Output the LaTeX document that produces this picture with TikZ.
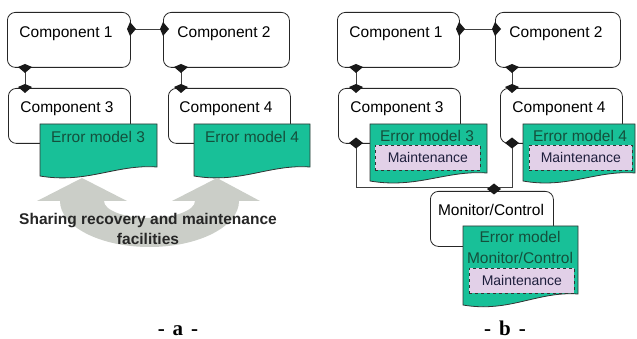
\documentclass[tikz,border=0pt]{standalone}
\usepackage{fontspec}
\setmainfont{Liberation Sans}
\newfontfamily\serifb{Liberation Serif}
\usetikzlibrary{calc}
\definecolor{emgreen}{RGB}{24,192,152}
\definecolor{emtext}{RGB}{20,80,60}
\definecolor{mlav}{RGB}{226,208,232}
\definecolor{mtext}{RGB}{30,30,60}
\definecolor{arrowgray}{RGB}{203,206,200}
\newcommand\kiteD[1]{\fill[port] ($(#1)+(0,-3)$) -- ($(#1)+(7,0)$) -- ($(#1)+(0,6)$) -- ($(#1)+(-7,0)$) -- cycle;}
\newcommand\kiteR[1]{\fill[port] ($(#1)+(-3,0)$) -- ($(#1)+(0,-7)$) -- ($(#1)+(6,0)$) -- ($(#1)+(0,7)$) -- cycle;}
\newcommand\diam[1]{\fill[port] ($(#1)+(-7,0)$) -- ($(#1)+(0,-5.5)$) -- ($(#1)+(7,0)$) -- ($(#1)+(0,5.5)$) -- cycle;}
% L R T BL BR
\newcommand\docpath[5]{(#1,#3) -- (#2,#3) -- (#2,#5) .. controls ({#2-0.35*(#2-#1)},{#5-3}) and ({#1+0.4*(#2-#1)},{#4+8}) .. (#1,#4) -- cycle}
\begin{document}
\begin{tikzpicture}[x=1pt,y=-1pt,
  comp/.style={draw=black!85, line width=0.8pt, rounded corners=8pt, fill=white, anchor=north west, inner sep=0},
  ctext/.style={font=\fontsize{15.5}{17}\selectfont, inner sep=0, anchor=base},
  doc/.style={draw=black!80, line width=0.8pt, fill=emgreen},
  emtxt/.style={font=\fontsize{15.5}{17}\selectfont, text=emtext, inner sep=0, anchor=base},
  maint/.style={draw=black!80, dashed, line width=0.7pt, fill=mlav, font=\fontsize{14}{16}\selectfont, text=mtext, inner sep=0, anchor=north west},
  port/.style={fill=black!90},
  wire/.style={draw=black!75, line width=0.8pt},
  panelcap/.style={font=\serifb\bfseries\fontsize{21}{24}\selectfont, inner sep=0, anchor=base}
]
\useasboundingbox (0,0) rectangle (637,339);

% ---------------- panel a ----------------
\coordinate (pa12) at (130,29);
\coordinate (pa21) at (163,29);
\coordinate (pa13) at (25,67);
\coordinate (pa31) at (25,87);
\coordinate (pa24) at (181,67);
\coordinate (pa42) at (181,87);
\draw[wire] (pa12) -- (pa21);
\draw[wire] (pa13) -- (pa31);
\draw[wire] (pa24) -- (pa42);

\node[comp, minimum width=123pt, minimum height=55pt] (a1) at (7,12) {};
\node[comp, minimum width=126pt, minimum height=55pt] (a2) at (163,12) {};
\node[comp, minimum width=122pt, minimum height=55pt] (a3) at (8,88) {};
\node[comp, minimum width=122pt, minimum height=55pt] (a4) at (168,88) {};
\node[ctext] (a1t) at (66,38) {Component 1};
\node[ctext] (a2t) at (224,38) {Component 2};
\node[ctext] (a3t) at (67,113) {Component 3};
\node[ctext] (a4t) at (226,113) {Component 4};

\path[doc] \docpath{40}{157}{124}{176}{167};
\path[doc] \docpath{194}{310}{124}{176}{167};
\node[emtxt] (ea3) at (98,143) {Error model 3};
\node[emtxt] (ea4) at (252,143) {Error model 4};

\kiteR{pa12}
\kiteR{pa21}
\kiteD{pa13}
\kiteD{pa31}
\kiteD{pa24}
\kiteD{pa42}

% grey sharing arrow
\fill[arrowgray] (37,201) -- (82,178) -- (127,201) -- (104,201)
  arc[start angle=180, end angle=360, x radius=45.5pt, y radius=17pt]
  -- (172,201) -- (217,178) -- (260,201) -- (239,201)
  arc[start angle=0, end angle=-180, x radius=89.5pt, y radius=46pt] -- cycle;
\node[font=\bfseries\fontsize{15.5}{19}\selectfont, text=black!85, inner sep=0, anchor=base] (sh1) at (148,225) {Sharing recovery and maintenance};
\node[font=\bfseries\fontsize{15.5}{19}\selectfont, text=black!85, inner sep=0, anchor=base] (sh2) at (148,244) {facilities};

\node[panelcap] (capa) at (178,335) {-\hspace{8pt}a\hspace{8pt}-};

% ---------------- panel b ----------------
\coordinate (pb12) at (459,29);
\coordinate (pb21) at (495,29);
\coordinate (pb13) at (356,67);
\coordinate (pb31) at (356,87);
\coordinate (pb24) at (512,67);
\coordinate (pb42) at (512,87);
\coordinate (d3) at (356,143);
\coordinate (d4) at (512,143);
\coordinate (dm) at (494,189);
\coordinate (k3) at (356,187);
\coordinate (k4) at (512,187);
\draw[wire] (pb12) -- (pb21);
\draw[wire] (pb13) -- (pb31);
\draw[wire] (pb24) -- (pb42);
\draw[wire] (d3) -- (k3) -- (k4) -- (d4);

\node[comp, minimum width=122pt, minimum height=55pt] (b1) at (337,12) {};
\node[comp, minimum width=125pt, minimum height=55pt] (b2) at (495,12) {};
\node[comp, minimum width=122pt, minimum height=55pt] (b3) at (338,88) {};
\node[comp, minimum width=122pt, minimum height=55pt] (b4) at (500,88) {};
\node[comp, minimum width=123pt, minimum height=55pt] (mc) at (430,191) {};
\node[ctext] (b1t) at (396,38) {Component 1};
\node[ctext] (b2t) at (556,38) {Component 2};
\node[ctext] (b3t) at (397,113) {Component 3};
\node[ctext] (b4t) at (559,113) {Component 4};
\node[ctext] (mct) at (491,215) {Monitor/Control};

\path[doc] \docpath{370}{487}{124}{181}{173};
\path[doc] \docpath{523}{635}{124}{181}{173};
\path[doc] \docpath{463}{578}{226}{305}{294};
\node[emtxt] (eb3) at (427,142) {Error model 3};
\node[emtxt] (eb4) at (580,142) {Error model 4};
\node[emtxt] (em1) at (520,243) {Error model};
\node[emtxt] (em2) at (520,263) {Monitor/Control};

\node[maint, minimum width=105pt, minimum height=25pt] (m3) at (375,145) {Maintenance};
\node[maint, minimum width=103pt, minimum height=25pt] (m4) at (529,145) {Maintenance};
\node[maint, minimum width=105pt, minimum height=25pt] (mm) at (469,268) {Maintenance};

\kiteR{pb12}
\kiteR{pb21}
\kiteD{pb13}
\kiteD{pb31}
\kiteD{pb24}
\kiteD{pb42}
\diam{d3}
\diam{d4}
\diam{dm}

\node[panelcap] (capb) at (505,335) {-\hspace{8pt}b\hspace{8pt}-};
\end{tikzpicture}
\end{document}
